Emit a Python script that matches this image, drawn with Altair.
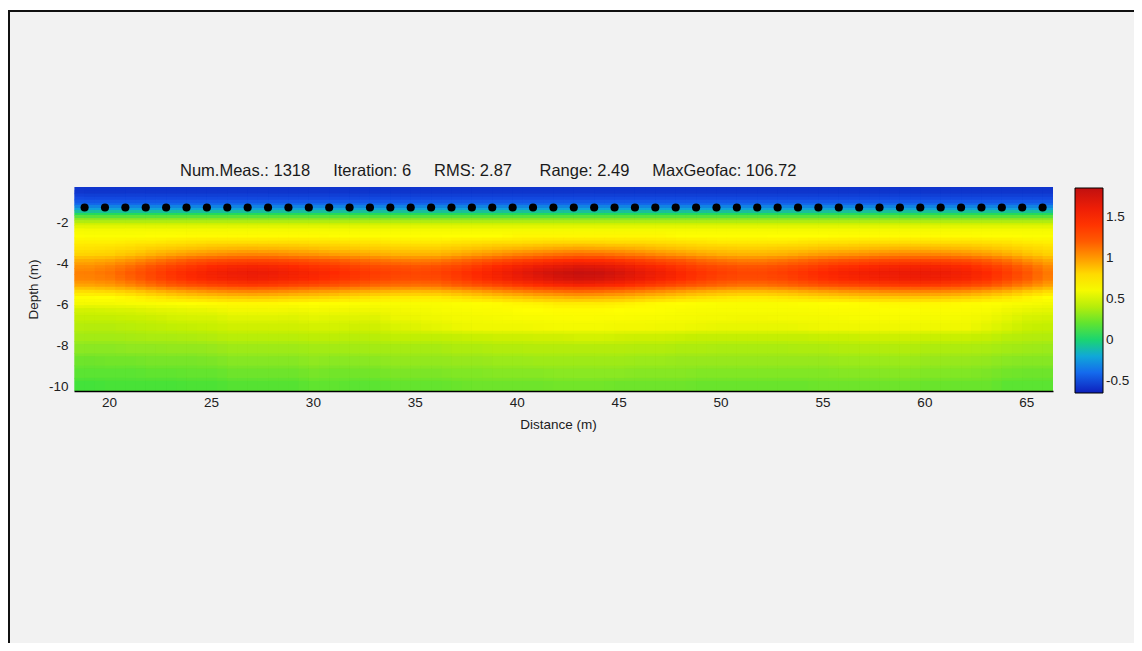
import altair as alt
import pandas as pd

# ---------------- data ----------------
title_text = ("Num.Meas.: 1318\u00a0\u00a0\u00a0\u00a0\u00a0Iteration: 6\u00a0\u00a0\u00a0\u00a0\u00a0"
              "RMS: 2.87\u00a0\u00a0\u00a0\u00a0\u00a0\u00a0Range: 2.49\u00a0\u00a0\u00a0\u00a0\u00a0MaxGeofac: 106.72")

x_ticks = [20, 25, 30, 35, 40, 45, 50, 55, 60, 65]
y_ticks = [-2, -4, -6, -8, -10]
cbar_ticks = [-0.5, 0, 0.5, 1, 1.5]

electrode_x = [18.8, 19.8, 20.8, 21.8, 22.8, 23.8, 24.8, 25.8, 26.8, 27.8, 28.8, 29.8,
               30.8, 31.8, 32.8, 33.8, 34.8, 35.8, 36.8, 37.8, 38.8, 39.8, 40.8, 41.8,
               42.8, 43.8, 44.8, 45.8, 46.8, 47.8, 48.8, 49.8, 50.8, 51.8, 52.8, 53.8,
               54.8, 55.8, 56.8, 57.8, 58.8, 59.8, 60.8, 61.8, 62.8, 63.8, 64.8, 65.8]
electrode_depth = -1.28

# model cell centres (distance, m)
cell_x = [18.8, 19.8, 20.8, 21.8, 22.8, 23.8, 24.8, 25.8, 26.8, 27.8, 28.8, 29.8,
          30.8, 31.8, 32.8, 33.8, 34.8, 35.8, 36.8, 37.8, 38.8, 39.8, 40.8, 41.8,
          42.8, 43.8, 44.8, 45.8, 46.8, 47.8, 48.8, 49.8, 50.8, 51.8, 52.8, 53.8,
          54.8, 55.8, 56.8, 57.8, 58.8, 59.8, 60.8, 61.8, 62.8, 63.8, 64.8, 65.8]
cell_half_width = 0.5

depth_top = [-0.28, -0.6, -0.9, -1.15, -1.4, -1.65, -1.9, -2.15, -2.45, -2.75, -3.05, -3.35,
             -3.65, -3.95, -4.25, -4.55, -4.85, -5.15, -5.45, -5.75, -6.05, -6.4, -6.8, -7.3,
             -7.8, -8.4, -9.0, -9.6]
depth_bottom = [-0.6, -0.9, -1.15, -1.4, -1.65, -1.9, -2.15, -2.45, -2.75, -3.05, -3.35, -3.65,
                -3.95, -4.25, -4.55, -4.85, -5.15, -5.45, -5.75, -6.05, -6.4, -6.8, -7.3, -7.8,
                -8.4, -9.0, -9.6, -10.24]

r00 = [-0.58, -0.58, -0.58, -0.58, -0.58, -0.58, -0.58, -0.58, -0.58, -0.58, -0.58, -0.58, -0.58, -0.58, -0.58, -0.58, -0.58, -0.58, -0.58, -0.58, -0.58, -0.58, -0.58, -0.58, -0.58, -0.58, -0.58, -0.58, -0.58, -0.58, -0.58, -0.58, -0.58, -0.58, -0.58, -0.58, -0.58, -0.58, -0.58, -0.58, -0.58, -0.58, -0.58, -0.58, -0.58, -0.58, -0.58, -0.58]
r01 = [-0.52, -0.52, -0.52, -0.52, -0.52, -0.52, -0.52, -0.52, -0.52, -0.52, -0.52, -0.52, -0.52, -0.52, -0.52, -0.52, -0.52, -0.52, -0.52, -0.52, -0.52, -0.52, -0.52, -0.52, -0.52, -0.52, -0.52, -0.52, -0.52, -0.52, -0.52, -0.52, -0.52, -0.52, -0.52, -0.52, -0.52, -0.52, -0.52, -0.52, -0.52, -0.52, -0.52, -0.52, -0.52, -0.52, -0.52, -0.52]
r02 = [-0.42, -0.42, -0.42, -0.42, -0.42, -0.42, -0.42, -0.42, -0.42, -0.42, -0.42, -0.42, -0.42, -0.42, -0.42, -0.42, -0.42, -0.42, -0.42, -0.42, -0.42, -0.42, -0.42, -0.42, -0.42, -0.42, -0.42, -0.42, -0.42, -0.42, -0.42, -0.42, -0.42, -0.42, -0.42, -0.42, -0.42, -0.42, -0.42, -0.42, -0.42, -0.42, -0.42, -0.42, -0.42, -0.42, -0.42, -0.42]
r03 = [-0.22, -0.22, -0.22, -0.22, -0.22, -0.22, -0.22, -0.22, -0.22, -0.22, -0.22, -0.22, -0.22, -0.22, -0.22, -0.22, -0.22, -0.22, -0.22, -0.22, -0.22, -0.22, -0.22, -0.22, -0.22, -0.22, -0.22, -0.22, -0.22, -0.22, -0.22, -0.22, -0.22, -0.22, -0.22, -0.22, -0.22, -0.22, -0.22, -0.22, -0.22, -0.22, -0.22, -0.22, -0.22, -0.22, -0.22, -0.22]
r04 = [0.05, 0.05, 0.05, 0.05, 0.05, 0.05, 0.05, 0.05, 0.05, 0.05, 0.05, 0.05, 0.05, 0.05, 0.05, 0.05, 0.05, 0.05, 0.05, 0.05, 0.05, 0.05, 0.05, 0.05, 0.05, 0.05, 0.05, 0.05, 0.05, 0.05, 0.05, 0.05, 0.05, 0.05, 0.05, 0.05, 0.05, 0.05, 0.05, 0.05, 0.05, 0.05, 0.05, 0.05, 0.05, 0.05, 0.05, 0.05]
r05 = [0.30, 0.30, 0.30, 0.30, 0.30, 0.30, 0.30, 0.30, 0.30, 0.30, 0.30, 0.30, 0.30, 0.30, 0.30, 0.30, 0.30, 0.30, 0.30, 0.30, 0.30, 0.30, 0.30, 0.30, 0.30, 0.30, 0.30, 0.30, 0.30, 0.30, 0.30, 0.30, 0.30, 0.30, 0.30, 0.30, 0.30, 0.30, 0.30, 0.30, 0.30, 0.30, 0.30, 0.30, 0.30, 0.30, 0.30, 0.30]
r06 = [0.48, 0.48, 0.48, 0.48, 0.48, 0.48, 0.48, 0.48, 0.48, 0.48, 0.48, 0.48, 0.48, 0.48, 0.48, 0.48, 0.48, 0.48, 0.48, 0.48, 0.48, 0.48, 0.48, 0.48, 0.48, 0.48, 0.48, 0.48, 0.48, 0.48, 0.48, 0.48, 0.48, 0.48, 0.48, 0.48, 0.48, 0.48, 0.48, 0.48, 0.48, 0.48, 0.48, 0.48, 0.48, 0.48, 0.48, 0.48]
r07 = [0.60, 0.60, 0.60, 0.60, 0.60, 0.60, 0.60, 0.60, 0.60, 0.60, 0.60, 0.60, 0.60, 0.60, 0.60, 0.60, 0.60, 0.60, 0.60, 0.60, 0.60, 0.60, 0.60, 0.60, 0.60, 0.60, 0.60, 0.60, 0.60, 0.60, 0.60, 0.60, 0.60, 0.60, 0.60, 0.60, 0.60, 0.60, 0.60, 0.60, 0.60, 0.60, 0.60, 0.60, 0.60, 0.60, 0.60, 0.60]
r08 = [0.66, 0.66, 0.66, 0.67, 0.67, 0.69, 0.69, 0.69, 0.69, 0.69, 0.69, 0.69, 0.67, 0.67, 0.67, 0.67, 0.67, 0.67, 0.68, 0.68, 0.68, 0.70, 0.70, 0.70, 0.70, 0.70, 0.70, 0.70, 0.70, 0.67, 0.67, 0.67, 0.67, 0.67, 0.68, 0.68, 0.68, 0.69, 0.69, 0.69, 0.69, 0.69, 0.69, 0.69, 0.67, 0.67, 0.66, 0.66]
r09 = [0.73, 0.73, 0.74, 0.75, 0.76, 0.77, 0.78, 0.78, 0.78, 0.78, 0.78, 0.77, 0.77, 0.76, 0.76, 0.75, 0.75, 0.75, 0.76, 0.77, 0.78, 0.78, 0.79, 0.80, 0.80, 0.80, 0.79, 0.79, 0.78, 0.77, 0.76, 0.75, 0.75, 0.75, 0.75, 0.76, 0.77, 0.77, 0.78, 0.78, 0.78, 0.78, 0.78, 0.78, 0.77, 0.76, 0.74, 0.73]
r10 = [0.77, 0.78, 0.80, 0.83, 0.85, 0.87, 0.89, 0.90, 0.91, 0.90, 0.89, 0.88, 0.86, 0.85, 0.84, 0.83, 0.83, 0.83, 0.85, 0.87, 0.89, 0.91, 0.93, 0.95, 0.96, 0.95, 0.94, 0.92, 0.89, 0.87, 0.85, 0.84, 0.83, 0.83, 0.84, 0.85, 0.87, 0.88, 0.89, 0.90, 0.91, 0.91, 0.90, 0.89, 0.87, 0.84, 0.81, 0.78]
r11 = [0.82, 0.83, 0.87, 0.92, 0.96, 1.00, 1.03, 1.05, 1.06, 1.05, 1.03, 1.01, 0.98, 0.96, 0.94, 0.92, 0.92, 0.92, 0.95, 0.99, 1.03, 1.07, 1.10, 1.13, 1.15, 1.14, 1.11, 1.08, 1.04, 1.00, 0.96, 0.93, 0.92, 0.92, 0.93, 0.96, 0.99, 1.01, 1.03, 1.05, 1.06, 1.06, 1.05, 1.03, 0.99, 0.94, 0.88, 0.83]
r12 = [0.94, 0.96, 1.02, 1.09, 1.16, 1.22, 1.27, 1.30, 1.31, 1.30, 1.27, 1.23, 1.20, 1.16, 1.13, 1.10, 1.09, 1.10, 1.15, 1.20, 1.27, 1.33, 1.38, 1.43, 1.45, 1.44, 1.40, 1.34, 1.28, 1.22, 1.16, 1.12, 1.09, 1.09, 1.12, 1.16, 1.20, 1.24, 1.27, 1.30, 1.31, 1.31, 1.30, 1.27, 1.20, 1.13, 1.03, 0.95]
r13 = [1.03, 1.07, 1.14, 1.23, 1.32, 1.39, 1.46, 1.50, 1.52, 1.50, 1.46, 1.41, 1.37, 1.32, 1.28, 1.25, 1.23, 1.25, 1.30, 1.37, 1.46, 1.54, 1.61, 1.66, 1.70, 1.68, 1.63, 1.55, 1.47, 1.39, 1.32, 1.27, 1.23, 1.23, 1.27, 1.32, 1.37, 1.43, 1.46, 1.50, 1.52, 1.52, 1.50, 1.46, 1.37, 1.28, 1.16, 1.05]
r14 = [1.08, 1.12, 1.20, 1.30, 1.40, 1.48, 1.55, 1.60, 1.62, 1.60, 1.55, 1.50, 1.45, 1.40, 1.35, 1.32, 1.30, 1.32, 1.38, 1.46, 1.55, 1.64, 1.72, 1.78, 1.82, 1.80, 1.74, 1.66, 1.57, 1.48, 1.40, 1.34, 1.30, 1.30, 1.34, 1.40, 1.46, 1.52, 1.56, 1.60, 1.62, 1.62, 1.60, 1.55, 1.46, 1.35, 1.22, 1.10]
r15 = [1.06, 1.09, 1.17, 1.27, 1.36, 1.44, 1.50, 1.55, 1.57, 1.55, 1.50, 1.46, 1.41, 1.36, 1.31, 1.28, 1.27, 1.28, 1.34, 1.42, 1.50, 1.59, 1.66, 1.72, 1.76, 1.74, 1.68, 1.61, 1.52, 1.44, 1.36, 1.30, 1.27, 1.27, 1.30, 1.36, 1.42, 1.47, 1.51, 1.55, 1.57, 1.57, 1.55, 1.50, 1.42, 1.31, 1.19, 1.08]
r16 = [0.96, 0.99, 1.05, 1.13, 1.20, 1.26, 1.31, 1.35, 1.37, 1.35, 1.31, 1.28, 1.24, 1.20, 1.16, 1.14, 1.13, 1.14, 1.19, 1.25, 1.31, 1.38, 1.44, 1.49, 1.52, 1.50, 1.46, 1.40, 1.33, 1.26, 1.20, 1.16, 1.13, 1.13, 1.16, 1.20, 1.25, 1.29, 1.32, 1.35, 1.37, 1.37, 1.35, 1.31, 1.25, 1.16, 1.07, 0.98]
r17 = [0.79, 0.81, 0.85, 0.90, 0.95, 0.99, 1.03, 1.05, 1.06, 1.05, 1.03, 1.00, 0.98, 0.95, 0.93, 0.91, 0.90, 0.91, 0.94, 0.98, 1.03, 1.07, 1.11, 1.14, 1.16, 1.15, 1.12, 1.08, 1.04, 0.99, 0.95, 0.92, 0.90, 0.90, 0.92, 0.95, 0.98, 1.01, 1.03, 1.05, 1.06, 1.06, 1.05, 1.03, 0.98, 0.93, 0.86, 0.80]
r18 = [0.67, 0.68, 0.71, 0.75, 0.78, 0.81, 0.83, 0.85, 0.86, 0.85, 0.83, 0.82, 0.80, 0.78, 0.76, 0.75, 0.75, 0.75, 0.77, 0.80, 0.83, 0.86, 0.89, 0.91, 0.93, 0.92, 0.90, 0.87, 0.84, 0.81, 0.78, 0.76, 0.75, 0.75, 0.76, 0.78, 0.80, 0.82, 0.84, 0.85, 0.86, 0.86, 0.85, 0.83, 0.80, 0.76, 0.72, 0.68]
r19 = [0.60, 0.60, 0.62, 0.64, 0.66, 0.68, 0.69, 0.70, 0.70, 0.70, 0.69, 0.68, 0.67, 0.66, 0.65, 0.64, 0.64, 0.64, 0.66, 0.67, 0.69, 0.71, 0.72, 0.74, 0.74, 0.74, 0.73, 0.71, 0.69, 0.68, 0.66, 0.65, 0.64, 0.64, 0.65, 0.66, 0.67, 0.68, 0.69, 0.70, 0.70, 0.70, 0.70, 0.69, 0.67, 0.65, 0.62, 0.60]
r20 = [0.48, 0.49, 0.50, 0.52, 0.53, 0.54, 0.55, 0.58, 0.58, 0.58, 0.57, 0.59, 0.58, 0.57, 0.56, 0.58, 0.59, 0.61, 0.63, 0.64, 0.65, 0.67, 0.68, 0.69, 0.69, 0.69, 0.68, 0.67, 0.66, 0.64, 0.63, 0.62, 0.62, 0.62, 0.62, 0.63, 0.64, 0.65, 0.65, 0.66, 0.66, 0.65, 0.65, 0.64, 0.62, 0.57, 0.54, 0.53]
r21 = [0.44, 0.44, 0.45, 0.46, 0.48, 0.49, 0.49, 0.52, 0.52, 0.52, 0.51, 0.53, 0.52, 0.52, 0.51, 0.55, 0.55, 0.57, 0.59, 0.60, 0.61, 0.62, 0.63, 0.64, 0.65, 0.64, 0.64, 0.63, 0.62, 0.61, 0.60, 0.59, 0.58, 0.58, 0.59, 0.60, 0.60, 0.61, 0.62, 0.62, 0.62, 0.61, 0.61, 0.60, 0.57, 0.53, 0.49, 0.48]
r22 = [0.40, 0.40, 0.41, 0.42, 0.43, 0.44, 0.45, 0.47, 0.47, 0.47, 0.47, 0.48, 0.48, 0.47, 0.47, 0.50, 0.51, 0.53, 0.55, 0.56, 0.57, 0.57, 0.58, 0.59, 0.59, 0.59, 0.58, 0.58, 0.57, 0.56, 0.55, 0.54, 0.54, 0.54, 0.54, 0.55, 0.56, 0.56, 0.57, 0.57, 0.57, 0.56, 0.56, 0.56, 0.53, 0.49, 0.45, 0.44]
r23 = [0.35, 0.35, 0.36, 0.37, 0.37, 0.38, 0.39, 0.41, 0.41, 0.41, 0.41, 0.42, 0.42, 0.41, 0.41, 0.43, 0.43, 0.43, 0.44, 0.45, 0.46, 0.46, 0.47, 0.47, 0.48, 0.48, 0.47, 0.46, 0.46, 0.45, 0.44, 0.44, 0.44, 0.44, 0.44, 0.44, 0.45, 0.45, 0.46, 0.46, 0.46, 0.45, 0.45, 0.45, 0.44, 0.41, 0.40, 0.39]
r24 = [0.29, 0.29, 0.30, 0.30, 0.31, 0.31, 0.32, 0.34, 0.34, 0.34, 0.34, 0.35, 0.35, 0.35, 0.35, 0.36, 0.36, 0.36, 0.38, 0.38, 0.39, 0.39, 0.40, 0.40, 0.40, 0.40, 0.40, 0.39, 0.39, 0.38, 0.38, 0.37, 0.37, 0.37, 0.37, 0.38, 0.38, 0.39, 0.39, 0.39, 0.39, 0.38, 0.38, 0.38, 0.37, 0.35, 0.34, 0.33]
r25 = [0.23, 0.24, 0.24, 0.25, 0.25, 0.25, 0.26, 0.28, 0.28, 0.28, 0.28, 0.30, 0.29, 0.29, 0.29, 0.31, 0.31, 0.31, 0.32, 0.32, 0.33, 0.33, 0.34, 0.34, 0.34, 0.34, 0.34, 0.33, 0.33, 0.32, 0.32, 0.32, 0.32, 0.32, 0.32, 0.32, 0.32, 0.33, 0.33, 0.33, 0.33, 0.32, 0.32, 0.32, 0.31, 0.29, 0.28, 0.28]
r26 = [0.19, 0.19, 0.19, 0.20, 0.20, 0.21, 0.21, 0.23, 0.23, 0.23, 0.23, 0.25, 0.24, 0.24, 0.24, 0.26, 0.26, 0.26, 0.27, 0.27, 0.28, 0.28, 0.28, 0.29, 0.29, 0.29, 0.29, 0.28, 0.28, 0.28, 0.27, 0.27, 0.27, 0.27, 0.27, 0.27, 0.27, 0.28, 0.28, 0.28, 0.28, 0.27, 0.27, 0.27, 0.26, 0.24, 0.23, 0.23]
r27 = [0.14, 0.15, 0.15, 0.15, 0.15, 0.16, 0.16, 0.18, 0.18, 0.18, 0.18, 0.20, 0.20, 0.19, 0.19, 0.21, 0.21, 0.21, 0.22, 0.23, 0.23, 0.23, 0.23, 0.24, 0.24, 0.24, 0.23, 0.23, 0.23, 0.23, 0.22, 0.22, 0.22, 0.22, 0.22, 0.22, 0.23, 0.23, 0.23, 0.23, 0.23, 0.22, 0.22, 0.22, 0.22, 0.19, 0.19, 0.19]

model_rows = [r00, r01, r02, r03, r04, r05, r06, r07, r08, r09, r10, r11, r12, r13,
              r14, r15, r16, r17, r18, r19, r20, r21, r22, r23, r24, r25, r26, r27]

# colour bar (value stops -> colours)
cbar_values = [-0.65, -0.5, -0.35, -0.2, -0.05, 0.1, 0.3, 0.45, 0.56, 0.68, 0.82, 1.0, 1.2, 1.45, 1.65, 1.85]
cbar_colors = ["#0d1fb8", "#1450e6", "#1478f0", "#10a8d8", "#10d088", "#30e040", "#90e820",
               "#c8f000", "#f0f800", "#ffff00", "#ffd400", "#ff9800", "#ff5a00", "#ff2a00",
               "#e81a08", "#c01010"]

# ---------------- tables ----------------
assert len(model_rows) == len(depth_top) == len(depth_bottom)
cells = []
for r, row in enumerate(model_rows):
    assert len(row) == len(cell_x), (r, len(row))
    for c, v in enumerate(row):
        cells.append({"x0": cell_x[c] - cell_half_width, "x1": cell_x[c] + cell_half_width,
                      "y0": depth_top[r], "y1": depth_bottom[r], "value": v})
cells_df = pd.DataFrame(cells)
elec_df = pd.DataFrame({"distance": electrode_x, "depth": [electrode_depth] * len(electrode_x)})

FONT = "Liberation Sans, Arial, sans-serif"
W, H = 979, 204
PAD_L, PAD_T = 66, 179
SVG_W, SVG_H = 1126, 635

xscale = alt.Scale(domain=[18.28, 66.31], nice=False, zero=False)
yscale = alt.Scale(domain=[-10.24, -0.28], nice=False, zero=False)
cscale = alt.Scale(type="linear", domain=cbar_values, range=cbar_colors, interpolate="rgb")

# base layer: opaque model cells (a hair of overlap hides anti-aliasing seams)
heat = alt.Chart(cells_df).transform_calculate(
    x1="datum.x1 + 0.05", y1="datum.y1 - 0.03",
).mark_rect(clip=True).encode(
    x=alt.X("x0:Q", scale=xscale,
            axis=alt.Axis(values=x_ticks, title="Distance (m)", ticks=False, tickSize=0,
                          domain=True, domainColor="#000000", domainWidth=1.5,
                          labelPadding=4, labelFontSize=13.5, labelFont=FONT, labelColor="#202020",
                          grid=False, titleFont=FONT, titleFontSize=13.5, titleFontWeight="normal",
                          titleColor="#202020", titleX=484, titleY=33, titleBaseline="middle",
                          titleAlign="center", zindex=2)),
    x2="x1:Q",
    y=alt.Y("y0:Q", scale=yscale,
            axis=alt.Axis(values=y_ticks, title="Depth (m)", ticks=False, tickSize=0, domain=False,
                          labelPadding=6, labelFontSize=13.5, labelFont=FONT, labelColor="#202020",
                          labelExpr="datum.value + ''", grid=False,
                          titleFont=FONT, titleFontSize=13.5, titleFontWeight="normal",
                          titleColor="#202020", titleX=-41, titleY=102, titleAngle=270,
                          titleAlign="center", titleBaseline="middle", zindex=2)),
    y2="y1:Q",
    color=alt.Color("value:Q", scale=cscale,
                    legend=alt.Legend(type="gradient", orient="none", legendX=1001, legendY=1,
                                      title=None, direction="vertical", gradientLength=205,
                                      gradientThickness=28, gradientStrokeColor="#000000",
                                      gradientStrokeWidth=1, values=cbar_ticks,
                                      labelExpr="datum.value + ''", labelFont=FONT,
                                      labelFontSize=13.5, labelColor="#202020", labelOffset=3,
                                      labelOverlap=False, padding=0, offset=0, zindex=2)),
)


def soft_layer(dx, dy, alpha):
    """The same model cells, drawn again half a cell away, translucent (display smoothing)."""
    return alt.Chart(cells_df).transform_calculate(
        x0=f"datum.x0 + {dx}", x1=f"datum.x1 + {dx}",
        y0=f"datum.y0 + {dy}", y1=f"datum.y1 + {dy}",
    ).mark_rect(opacity=alpha, clip=True).encode(
        x=alt.X("x0:Q", scale=xscale), x2="x1:Q",
        y=alt.Y("y0:Q", scale=yscale), y2="y1:Q",
        color=alt.Color("value:Q", scale=cscale, legend=None),
    )


soft_y = soft_layer(0, -0.15, 0.5)
soft_x = soft_layer(0.5, 0, 0.34)
soft_xy = soft_layer(0.5, -0.15, 0.25)

electrodes = alt.Chart(elec_df).mark_circle(size=66, color="#000000", opacity=1).encode(
    x=alt.X("distance:Q", scale=xscale),
    y=alt.Y("depth:Q", scale=yscale),
)

one = alt.Data(values=[{"t": title_text}])
header = alt.Chart(one).mark_text(align="left", baseline="middle", font=FONT, fontSize=16.5,
                                  color="#1a1a1a").encode(
    x=alt.value(106), y=alt.value(-16), text="t:N")

top_white = alt.Chart(one).mark_rect(color="#ffffff").encode(
    x=alt.value(-PAD_L), x2=alt.value(SVG_W - PAD_L), y=alt.value(-PAD_T), y2=alt.value(-PAD_T + 2))
top_line = alt.Chart(one).mark_rule(color="#111111", strokeWidth=2).encode(
    x=alt.value(-PAD_L), x2=alt.value(SVG_W - PAD_L), y=alt.value(-PAD_T + 3))
left_line = alt.Chart(one).mark_rule(color="#111111", strokeWidth=2).encode(
    x=alt.value(-PAD_L + 1), y=alt.value(-PAD_T + 2), y2=alt.value(SVG_H - PAD_T))

chart = alt.layer(top_white, top_line, left_line, heat, soft_y, soft_x, soft_xy,
                  electrodes, header).properties(
    width=W, height=H,
    autosize=alt.AutoSizeParams(type="none"),
    padding={"left": PAD_L, "top": PAD_T, "right": SVG_W - PAD_L - W, "bottom": SVG_H - PAD_T - H},
    background="#f2f2f2",
).resolve_scale(x="shared", y="shared").configure_view(stroke=None)

chart.save("out.html", embed_options={"renderer": "svg", "actions": False})
